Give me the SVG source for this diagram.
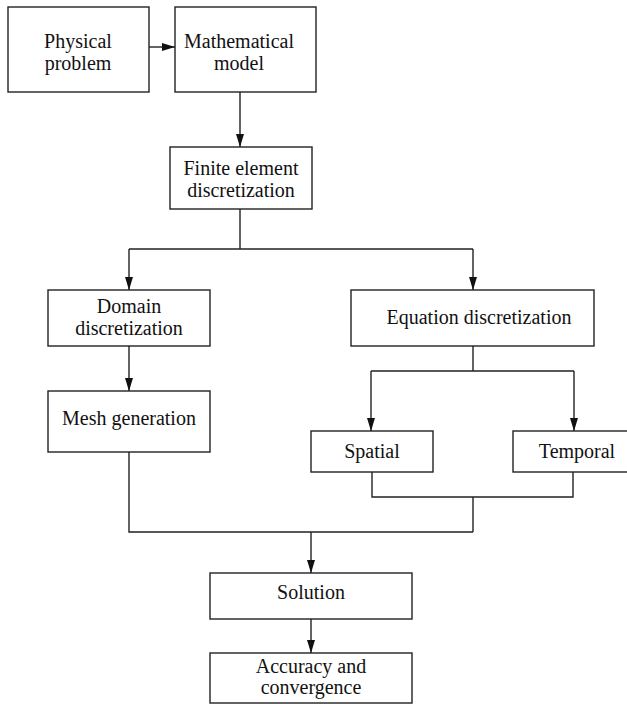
<svg xmlns="http://www.w3.org/2000/svg" width="627" height="704" viewBox="0 0 627 704">
<defs>
<marker id="ah" viewBox="0 0 13 8" refX="13" refY="4" markerWidth="13" markerHeight="8" markerUnits="userSpaceOnUse" orient="auto">
<path d="M0,0 L13,4 L0,8 z" fill="#111"/>
</marker>
<style>
.n{fill:#fff;stroke:#222;stroke-width:1.4}
text{font-family:"Liberation Serif","Times New Roman",serif;font-size:20px;fill:#111;text-anchor:middle}
.c{fill:none;stroke:#222;stroke-width:1.4}
</style>
</defs>
<rect width="627" height="704" fill="#fff"/>
<g id="connectors">
<path class="c" d="M149,47 H175" marker-end="url(#ah)"/>
<path class="c" d="M240,92 V147" marker-end="url(#ah)"/>
<path class="c" d="M240,209 V249 M129,249 H473"/>
<path class="c" d="M129,249 V290" marker-end="url(#ah)"/>
<path class="c" d="M473,249 V290" marker-end="url(#ah)"/>
<path class="c" d="M129,346 V391" marker-end="url(#ah)"/>
<path class="c" d="M473,346 V371 M371,371 H574"/>
<path class="c" d="M371,371 V431" marker-end="url(#ah)"/>
<path class="c" d="M574,371 V431" marker-end="url(#ah)"/>
<path class="c" d="M372,472 V497 H573 V472 M473,497 V532 M129,452 V532 H473"/>
<path class="c" d="M311,532 V573" marker-end="url(#ah)"/>
<path class="c" d="M311,619 V653" marker-end="url(#ah)"/>
</g>
<g id="physical"><rect class="n" x="8" y="7" width="141" height="85"/><text x="78" y="48">Physical</text><text x="78" y="70">problem</text></g>
<g id="mathematical"><rect class="n" x="175" y="7" width="141" height="85"/><text x="239" y="48">Mathematical</text><text x="239" y="70">model</text></g>
<g id="finite"><rect class="n" x="170" y="147" width="142" height="62"/><text x="241" y="175">Finite element</text><text x="241" y="197">discretization</text></g>
<g id="domain"><rect class="n" x="48" y="290" width="162" height="56"/><text x="129" y="313">Domain</text><text x="129" y="335">discretization</text></g>
<g id="equation"><rect class="n" x="351" y="290" width="243" height="56"/><text x="479" y="324">Equation discretization</text></g>
<g id="mesh"><rect class="n" x="48" y="391" width="162" height="61"/><text x="129" y="425">Mesh generation</text></g>
<g id="spatial"><rect class="n" x="311" y="431" width="122" height="41"/><text x="372" y="458">Spatial</text></g>
<g id="temporal"><rect class="n" x="513" y="431" width="118" height="41"/><text x="577" y="458">Temporal</text></g>
<g id="solution"><rect class="n" x="210" y="573" width="202" height="46"/><text x="311" y="599">Solution</text></g>
<g id="accuracy"><rect class="n" x="210" y="653" width="202" height="50"/><text x="311" y="673">Accuracy and</text><text x="311" y="694">convergence</text></g>
</svg>
